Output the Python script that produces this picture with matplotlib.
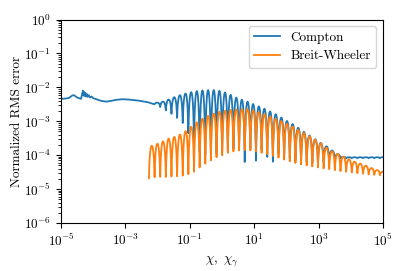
import numpy as np
import matplotlib
matplotlib.use("Agg")
import matplotlib.pyplot as plt

plt.rcParams['font.family'] = 'serif'
plt.rcParams['font.serif'] = ['cmr10', 'DejaVu Serif']
plt.rcParams['mathtext.fontset'] = 'cm'
plt.rcParams['axes.formatter.use_mathtext'] = True
plt.rcParams['axes.unicode_minus'] = False
plt.rcParams['font.size'] = 9

# log10(chi) positions of the error nodes (lobe boundaries)
node_logx = [-2.27, -2.095, -1.92, -1.745, -1.57, -1.395, -1.22, -1.045, -0.87, -0.695,
             -0.52, -0.345, -0.17, 0.005, 0.18, 0.355, 0.53, 0.705, 0.88, 1.055,
             1.23, 1.405, 1.58, 1.755, 1.93, 2.105, 2.28, 2.455, 2.63, 2.805,
             2.98, 3.155, 3.33, 3.505, 3.68, 3.855, 4.03, 4.205, 4.38, 4.555,
             4.73, 4.905, 5.08]

# Breit-Wheeler: log10 error at nodes (troughs) and at lobe tops (peaks)
bw_trough = [-4.68, -4.65, -4.64, -4.64, -4.63, -4.62, -4.60, -4.56, -4.49, -4.36,
             -4.25, -4.15, -4.06, -4.00, -3.93, -3.89, -3.86, -3.85, -3.86, -3.89,
             -3.93, -3.97, -4.02, -4.07, -4.13, -4.18, -4.23, -4.27, -4.30, -4.33,
             -4.36, -4.39, -4.41, -4.44, -4.47, -4.49, -4.51, -4.53, -4.55, -4.57,
             -4.58, -4.59, -4.60]
bw_peak = [-3.72, -3.66, -3.59, -3.51, -3.46, -3.39, -3.29, -3.16, -3.03, -2.92,
           -2.84, -2.77, -2.72, -2.69, -2.66, -2.65, -2.64, -2.64, -2.68, -2.73,
           -2.79, -2.85, -2.92, -2.99, -3.07, -3.15, -3.25, -3.34, -3.44, -3.54,
           -3.65, -3.78, -3.88, -3.96, -4.04, -4.12, -4.19, -4.25, -4.31, -4.38,
           -4.44, -4.49]

# Compton: smooth part at low chi (log10 x, log10 y)
c_smooth_logx = [-5.0, -4.85, -4.75, -4.65, -4.6, -4.5, -4.38, -4.32, -4.3, -4.28,
                 -4.26, -4.24, -4.22, -4.2, -4.17, -4.14, -4.1, -4.05, -4.0, -3.9,
                 -3.75, -3.6, -3.45, -3.3, -3.1, -2.9, -2.6, -2.3]
c_smooth_logy = [-2.34, -2.33, -2.31, -2.24, -2.23, -2.30, -2.34, -2.10, -2.24, -2.14,
                 -2.26, -2.17, -2.27, -2.20, -2.28, -2.23, -2.30, -2.27, -2.32, -2.35,
                 -2.40, -2.42, -2.40, -2.37, -2.35, -2.36, -2.39, -2.44]
# Compton oscillating part: troughs at node_logx[1:], peaks between
c_trough = [-2.50, -2.58, -2.68, -2.78, -2.90, -3.05, -3.35, -3.60, -3.90,
            -4.00, -4.00, -3.95, -3.90, -3.85, -3.80, -3.80, -4.20, -3.80, -4.16,
            -3.85, -4.05, -4.19, -3.95, -4.05, -4.10, -4.15, -4.18, -4.20, -4.22,
            -4.22, -4.20, -4.15, -4.12, -4.10, -4.09, -4.09, -4.09, -4.09, -4.09,
            -4.09, -4.09, -4.09]
c_peak = [-2.45, -2.42, -2.36, -2.29, -2.23, -2.18, -2.14, -2.11, -2.09,
          -2.08, -2.08, -2.10, -2.15, -2.22, -2.30, -2.36, -2.42, -2.49, -2.56,
          -2.63, -2.71, -2.79, -2.89, -2.99, -3.08, -3.19, -3.31, -3.42, -3.53,
          -3.64, -3.74, -3.86, -3.97, -4.05, -4.06, -4.06, -4.06, -4.06, -4.06,
          -4.06, -4.06]

# shape of one lobe between two nodes (fraction of lobe height)
lobe_t = [0.0, 0.03, 0.07, 0.12, 0.2, 0.3, 0.4, 0.5, 0.6, 0.7, 0.8, 0.88, 0.93, 0.97, 1.0]
lobe_g = [0.0, 0.2, 0.4, 0.58, 0.77, 0.91, 0.98, 1.0, 0.98, 0.91, 0.77, 0.58, 0.4, 0.2, 0.0]


def build(nodes, troughs, peaks):
    xs, ys = [], []
    for k in range(len(peaks)):
        x0, x1 = nodes[k], nodes[k + 1]
        for t, g in zip(lobe_t, lobe_g):
            base = troughs[k] if t <= 0.5 else troughs[k + 1]
            xs.append(x0 + t * (x1 - x0))
            ys.append(base + (peaks[k] - base) * g)
    return np.array(xs), np.array(ys)


bx, by = build(node_logx, bw_trough, bw_peak)
cx_o, cy_o = build(node_logx[1:], c_trough, c_peak)
cx = np.concatenate([c_smooth_logx, cx_o])
cy = np.concatenate([c_smooth_logy, cy_o])

fig = plt.figure(figsize=(4.07, 2.71), dpi=100)
ax = fig.add_axes([0.150, 0.177, 0.791, 0.751])
ax.plot(10 ** cx, 10 ** cy, color='#1f77b4', lw=1.3, label='Compton')
ax.plot(10 ** bx, 10 ** by, color='#ff7f0e', lw=1.3, label='Breit-Wheeler')
ax.set_xscale('log')
ax.set_yscale('log')
ax.set_xlim(1e-5, 1e5)
ax.set_ylim(1e-6, 1e0)
ax.set_xlabel(r'$\chi,\ \chi_\gamma$', fontsize=9.5)
ax.set_ylabel('Normalized RMS error', fontsize=9.5)
ax.yaxis.set_label_coords(-0.118, 0.5)
ax.tick_params(labelsize=9.5)
ax.legend(loc='upper right', fontsize=9.5)
fig.savefig('out.png', dpi=100)
